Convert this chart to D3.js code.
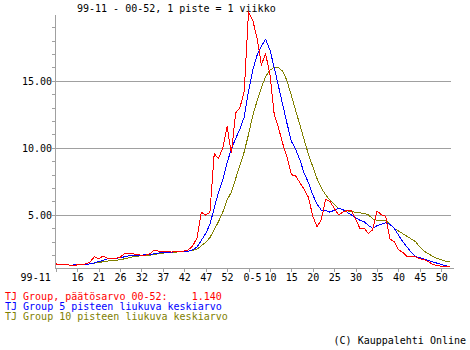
<!DOCTYPE html>
<html>
<head>
<meta charset="utf-8">
<script src="https://cdn.jsdelivr.net/npm/d3@7"></script>
<style>
  body { margin: 0; background: #fff; }
  text { font-family: "DejaVu Sans Mono", "Liberation Mono", monospace; font-size: 10px; white-space: pre; }
</style>
</head>
<body>
<svg id="chart" width="470" height="350"></svg>
<script>
// Week labels shown every fifth point (index 0, 5, 10, ... 90)
const tickLabels = ["99-11", "16", "21", "26", "32", "37", "42", "47", "52", "0-5",
                    "10", "15", "20", "25", "30", "35", "40", "45", "50"];

// Weekly closing value, 99-11 .. 00-52
const closeValues = [
  1.35, 1.27, 1.27, 1.27, 1.20, 1.27, 1.27, 1.35, 1.47, 1.87,
  1.72, 1.92, 1.77, 1.77, 1.77, 1.82, 2.10, 2.10, 2.10, 2.04,
  1.99, 1.99, 2.10, 2.37, 2.30, 2.30, 2.30, 2.22, 2.30, 2.30,
  2.30, 2.40, 2.70, 3.30, 5.20, 4.98, 5.20, 9.56, 9.20, 10.00,
  11.60, 9.60, 12.60, 13.00, 14.20, 20.10, 19.50, 18.20, 16.20, 17.00,
  15.50, 12.50, 11.50, 10.30, 9.30, 8.00, 7.90, 7.40, 6.90, 6.30,
  4.90, 4.10, 4.66, 6.15, 6.00, 5.50, 5.00, 5.20, 5.30, 5.30,
  4.66, 4.00, 4.00, 3.60, 3.90, 5.30, 5.00, 4.90, 3.20, 3.00,
  2.40, 2.20, 1.90, 1.87, 1.87, 1.72, 1.67, 1.50, 1.30, 1.22,
  1.17, 1.14, 1.14
];

// 5-point moving average (starts at the fifth week)
const ma5 = [
  null, null, null, null, 1.27, 1.27, 1.27, 1.30, 1.35, 1.42,
  1.52, 1.60, 1.72, 1.77, 1.77, 1.80, 1.87, 1.95, 1.97, 2.00,
  2.00, 2.02, 2.04, 2.10, 2.15, 2.20, 2.20, 2.22, 2.25, 2.25,
  2.27, 2.30, 2.40, 2.60, 3.10, 3.60, 4.30, 5.50, 6.70, 7.60,
  8.90, 9.90, 10.70, 11.40, 12.30, 14.20, 15.80, 16.90, 17.60, 18.10,
  17.30, 16.00, 14.60, 13.20, 11.80, 10.50, 9.90, 9.10, 8.10, 7.40,
  6.50, 5.80, 5.35, 5.35, 5.20, 5.35, 5.50, 5.40, 5.20, 5.00,
  4.80, 4.60, 4.50, 4.20, 4.00, 4.20, 4.30, 4.40, 4.30, 4.00,
  3.50, 3.00, 2.60, 2.20, 1.90, 1.80, 1.70, 1.60, 1.50, 1.40,
  1.30, 1.20, 1.15
];

// 10-point moving average (starts at the tenth week)
const ma10 = [
  null, null, null, null, null, null, null, null, null, 1.40,
  1.45, 1.50, 1.55, 1.60, 1.62, 1.65, 1.72, 1.80, 1.87, 1.92,
  1.95, 1.97, 2.00, 2.05, 2.10, 2.15, 2.17, 2.20, 2.22, 2.25,
  2.25, 2.30, 2.35, 2.45, 2.70, 2.95, 3.30, 3.90, 4.50, 5.20,
  6.10, 6.70, 7.70, 8.70, 9.70, 11.00, 12.40, 13.50, 14.50, 15.30,
  15.80, 16.00, 16.00, 15.70, 15.00, 13.90, 12.80, 11.70, 10.60, 9.50,
  8.60, 7.70, 7.00, 6.50, 6.10, 5.80, 5.50, 5.40, 5.30, 5.25,
  5.20, 5.15, 5.10, 5.00, 4.70, 4.60, 4.60, 4.60, 4.30, 4.00,
  3.80, 3.60, 3.40, 3.20, 3.00, 2.60, 2.30, 2.10, 1.90, 1.75,
  1.65, 1.55, 1.50
];

const majorTicks = [5, 10, 15];
const minorTicks = d3.range(2, 20).filter(v => !majorTicks.includes(v));

const legendLines = [
  { text: "TJ Group, päätösarvo 00-52:    1.140", color: "#ff0000" },
  { text: "TJ Group 5 pisteen liukuva keskiarvo", color: "#0000ff" },
  { text: "TJ Group 10 pisteen liukuva keskiarvo", color: "#808000" }
];

const svg = d3.select("#chart");
const axisColor = "#a0a0a0";

const x = d3.scaleLinear().domain([0, 90]).range([55.7, 441.3]);
const y = d3.scaleLinear().domain([1, 20]).range([268.5, 13.8]);

const plotLeft = 55.5, plotRight = 454;

// Title
svg.append("text").attr("x", 77).attr("y", 12).text("99-11 - 00-52, 1 piste = 1 viikko");

// Horizontal gridlines with labels
majorTicks.forEach(v => {
  const yy = Math.round(y(v)) + 0.5;
  svg.append("line").attr("x1", 52).attr("x2", 451).attr("y1", yy).attr("y2", yy)
    .attr("stroke", axisColor).attr("stroke-width", 1).attr("shape-rendering", "crispEdges");
  svg.append("text").attr("x", 52).attr("y", yy + 3.5).attr("text-anchor", "end")
    .text(d3.format(".2f")(v));
});

// Minor ticks on the value axis
minorTicks.forEach(v => {
  const yy = Math.round(y(v)) + 0.5;
  svg.append("line").attr("x1", 52).attr("x2", plotLeft).attr("y1", yy).attr("y2", yy)
    .attr("stroke", axisColor).attr("shape-rendering", "crispEdges");
});

// Value axis line
svg.append("line").attr("x1", plotLeft).attr("x2", plotLeft).attr("y1", 15).attr("y2", 268.5)
  .attr("stroke", axisColor).attr("shape-rendering", "crispEdges");

// Week axis
const xAxis = d3.axisBottom(x)
  .tickValues(d3.range(0, 91, 5))
  .tickSize(3)
  .tickFormat((d, i) => tickLabels[i]);
const gx = svg.append("g").attr("transform", "translate(0,268.5)").call(xAxis);
gx.select(".domain").remove();
gx.selectAll(".tick line").attr("stroke", axisColor).attr("shape-rendering", "crispEdges");
gx.selectAll(".tick text")
  .attr("fill", "#000")
  .attr("y", 12.5)
  .attr("dy", 0)
  .style("font-family", "DejaVu Sans Mono, monospace")
  .style("font-size", "10px")
  .attr("text-anchor", (d, i) => i === 0 ? "end" : "middle")
  .attr("dx", (d, i) => i === 0 ? -5.5 : (tickLabels[i] === "0-5" ? 3.5 : 0));
svg.append("line").attr("x1", plotLeft).attr("x2", plotRight).attr("y1", 268.5).attr("y2", 268.5)
  .attr("stroke", axisColor).attr("shape-rendering", "crispEdges");

// Series lines
const line = d3.line()
  .defined(d => d != null)
  .x((d, i) => x(i))
  .y(d => y(d));

const series = [
  { values: ma10, color: "#808000" },
  { values: ma5, color: "#0000ff" },
  { values: closeValues, color: "#ff0000" }
];
series.forEach(s => {
  svg.append("path")
    .attr("d", line(s.values))
    .attr("fill", "none")
    .attr("stroke", s.color)
    .attr("stroke-width", 1)
    .attr("shape-rendering", "crispEdges");
});

// Legend
legendLines.forEach((l, i) => {
  svg.append("text").attr("x", 5).attr("y", 300 + i * 10).attr("fill", l.color).text(l.text);
});

svg.append("text").attr("x", 466).attr("y", 343.5).attr("text-anchor", "end")
  .text("(C) Kauppalehti Online");
</script>
</body>
</html>
